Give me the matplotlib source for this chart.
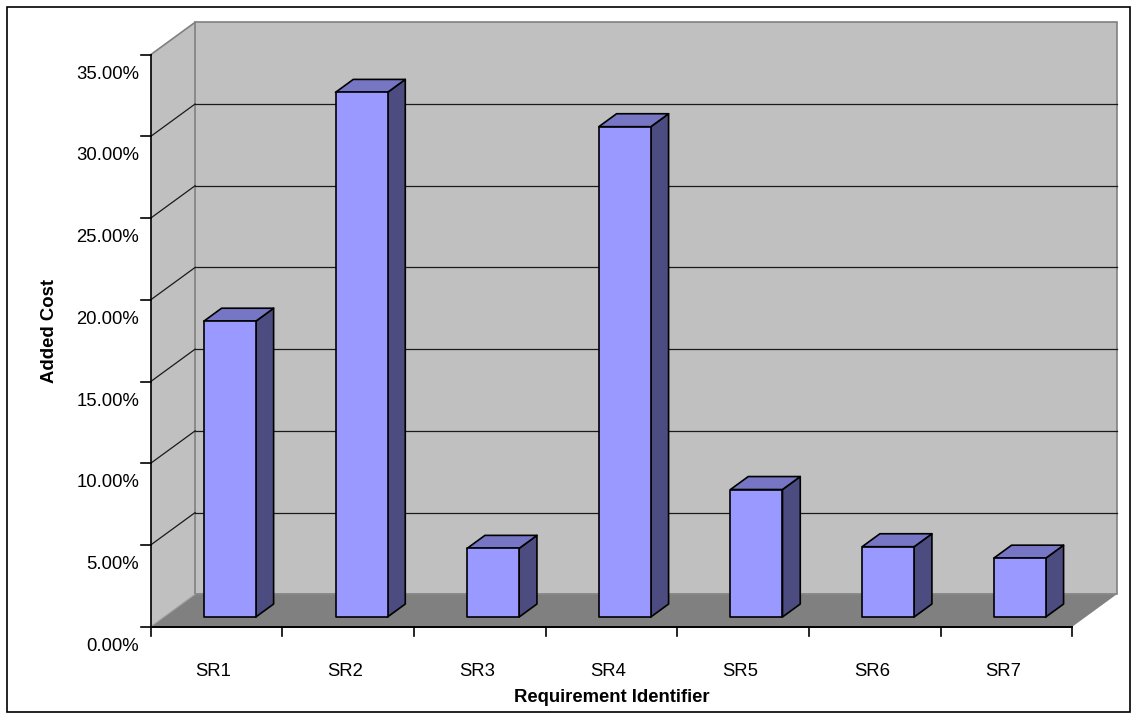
import matplotlib
matplotlib.use("Agg")
import matplotlib.pyplot as plt
from matplotlib.patches import Polygon, Rectangle
from matplotlib.transforms import ScaledTranslation

plt.rcParams['font.family'] = ['Liberation Sans', 'DejaVu Sans']

# Chart data
categories = ["SR1", "SR2", "SR3", "SR4", "SR5", "SR6", "SR7"]
added_cost = [0.181, 0.321, 0.042, 0.300, 0.078, 0.043, 0.036]
y_ticks = [0.00, 0.05, 0.10, 0.15, 0.20, 0.25, 0.30, 0.35]
x_title = "Requirement Identifier"
y_title = "Added Cost"

W, H, DPI = 1137, 719, 100
fig = plt.figure(figsize=(W / DPI, H / DPI), dpi=DPI, facecolor="white")
ax = fig.add_axes([0, 0, 1, 1])
ax.set_axis_off()

# Plot-area scale: one category = 131.66 px, one unit of value = 1634.3 px
px_cat = 131.66
px_val = 1634.3
x0_px, y0_px = 150.7, 626.7          # front-left corner of floor
ax.set_xlim(0.5 - x0_px / px_cat, 0.5 + (W - x0_px) / px_cat)
ax.set_ylim(-(H - y0_px) / px_val, y0_px / px_val)

# 3-D depth vector (in data units)
Dx, Dy = 44.4 / px_cat, 32.4 / px_val
xmin, xmax = 0.5, len(categories) + 0.5
vmax = y_ticks[-1]

wall = "#C0C0C0"
floor = "#808080"
edge_gray = "#808080"
grid_c = "#1a1a1a"

# Side wall
ax.add_patch(Polygon([(xmin, 0), (xmin + Dx, Dy), (xmin + Dx, vmax + Dy), (xmin, vmax)],
                     closed=True, facecolor=wall, edgecolor="none", zorder=1))
# Back wall
ax.add_patch(Polygon([(xmin + Dx, Dy), (xmax + Dx, Dy), (xmax + Dx, vmax + Dy), (xmin + Dx, vmax + Dy)],
                     closed=True, facecolor=wall, edgecolor=edge_gray, lw=1.2, zorder=1))
# Floor
ax.add_patch(Polygon([(xmin, 0), (xmax, 0), (xmax + Dx, Dy), (xmin + Dx, Dy)],
                     closed=True, facecolor=floor, edgecolor="none", zorder=2))
# Side wall edges
ax.plot([xmin, xmin + Dx], [vmax, vmax + Dy], color=edge_gray, lw=1.2, zorder=2)
ax.plot([xmin, xmin + Dx], [0, Dy], color="#a0a0a0", lw=0.8, zorder=2)

# Gridlines on both walls
for v in y_ticks[1:-1]:
    ax.plot([xmin, xmin + Dx], [v, v + Dy], color=grid_c, lw=0.9, zorder=2)
    ax.plot([xmin + Dx, xmax + Dx], [v + Dy, v + Dy], color=grid_c, lw=0.9, zorder=2)

# Value axis, floor front edge and ticks
tick_len_x = 10 / px_cat
tick_len_y = 9 / px_val
ax.plot([xmin, xmin], [0, vmax], color="black", lw=1.2, zorder=3)
ax.plot([xmin, xmax], [0, 0], color="black", lw=1.4, zorder=3)
for v in y_ticks:
    ax.plot([xmin - tick_len_x, xmin], [v, v], color="black", lw=1.2, zorder=3)
for k in range(len(categories) + 1):
    xb = xmin + k
    ax.plot([xb, xb], [0, -tick_len_y], color="black", lw=1.2, zorder=3)

# Bars (prisms placed in the middle of the floor depth)
front_c, top_c, side_c = "#9999FF", "#7676C4", "#4C4C80"
bw = 0.395
d0, dd = 0.3, 0.4
for i, v in enumerate(added_cost):
    xc = i + 1
    xl = xc - bw / 2 + d0 * Dx
    xr = xc + bw / 2 + d0 * Dx
    yb = d0 * Dy
    yt = v + d0 * Dy
    ox, oy = dd * Dx, dd * Dy
    # side face
    ax.add_patch(Polygon([(xr, yb), (xr + ox, yb + oy), (xr + ox, yt + oy), (xr, yt)],
                         closed=True, facecolor=side_c, edgecolor="black", lw=1.2,
                         joinstyle="round", zorder=4))
    # top face
    ax.add_patch(Polygon([(xl, yt), (xr, yt), (xr + ox, yt + oy), (xl + ox, yt + oy)],
                         closed=True, facecolor=top_c, edgecolor="black", lw=1.2,
                         joinstyle="round", zorder=4))
    # front face
    ax.add_patch(Polygon([(xl, yb), (xr, yb), (xr, yt), (xl, yt)],
                         closed=True, facecolor=front_c, edgecolor="black", lw=1.2,
                         joinstyle="round", zorder=5))

# Tick labels
fs = 13.3
ylab_off = ScaledTranslation(-11.4 / DPI, -19.5 / DPI, fig.dpi_scale_trans)
for v in y_ticks:
    ax.text(xmin, v, f"{v * 100:.2f}%", ha="right", va="center", fontsize=fs,
            transform=ax.transData + ylab_off, zorder=6)
xlab_off = ScaledTranslation(-3 / DPI, -45 / DPI, fig.dpi_scale_trans)
for i, c in enumerate(categories):
    ax.text(i + 1, 0, c, ha="center", va="center", fontsize=fs,
            transform=ax.transData + xlab_off, zorder=6)

# Axis titles
ax.text(611.5 / W, 1 - 697 / H, x_title, ha="center", va="center", fontsize=fs,
        fontweight="bold", transform=fig.transFigure)
ax.text(49 / W, 1 - 331 / H, y_title, ha="center", va="center", fontsize=fs,
        fontweight="bold", rotation=90, transform=fig.transFigure)

# Chart-area border
fig.patches.append(Rectangle((7 / W, 7 / H), (W - 14) / W, (H - 14) / H,
                             transform=fig.transFigure, fill=False,
                             edgecolor="black", lw=1.2))

fig.savefig("out.png", dpi=DPI, facecolor="white")
